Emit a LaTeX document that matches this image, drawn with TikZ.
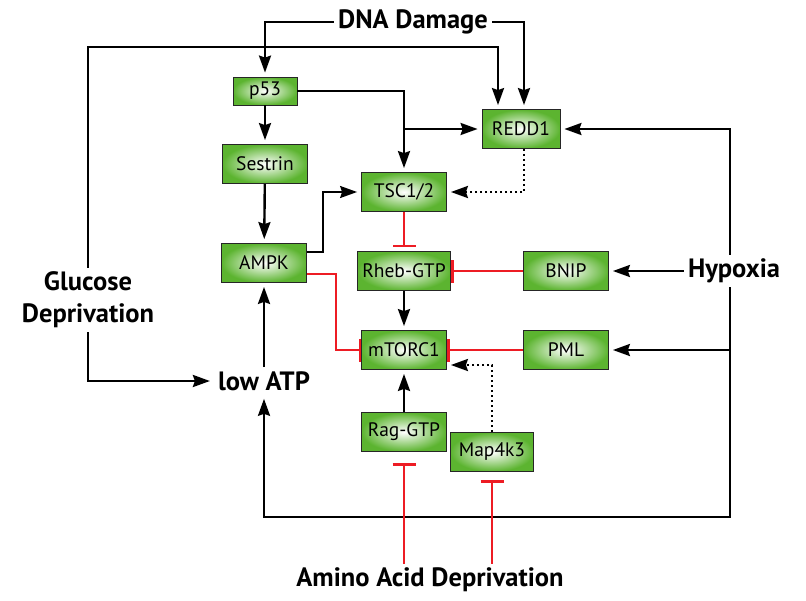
\documentclass[tikz,border=0pt]{standalone}
\usepackage{fontspec}
\setmainfont{PT Sans}
\usetikzlibrary{arrows.meta}
\definecolor{boxgreen}{RGB}{92,180,48}
\definecolor{inhred}{RGB}{237,28,36}
\tikzset{
	gbox/.style={draw=black!85, line width=0.8pt, inner color=white, outer color=boxgreen,
		minimum width=85pt, minimum height=39pt, inner sep=0pt, font=\fontsize{19.5}{22}\selectfont},
	lbl/.style={inner sep=4pt, font=\bfseries\fontsize{26.5}{32}\selectfont},
	act/.style={line width=2.4pt, -{Stealth[length=17pt,width=12pt,inset=2pt]}, shorten >=4pt},
	dotact/.style={act, dash pattern=on 2.5pt off 2.5pt},
	inh/.style={line width=2.2pt, inhred, -{Bar[width=23pt,line width=2.6pt]}},
}
\begin{document}
\begin{tikzpicture}[x=1pt,y=-1pt]
\useasboundingbox (0,0) rectangle (806,600);

% boxes
\node[gbox, minimum width=64pt, minimum height=28pt] (p53) at (265,91) {p53};
\node[gbox, minimum width=78pt] (redd) at (521,129) {REDD1};
\node[gbox, minimum width=93pt] (rheb) at (404,271) {Rheb-GTP};
\node[gbox, minimum width=83pt] (map) at (492,452) {Map4k3};
\foreach \n/\x/\y/\t in {sestrin/265/164/Sestrin, ampk/264/263/AMPK, tsc/404/192/{TSC1/2},
	bnip/566/271/BNIP, mtorc/404/350/mTORC1, pml/566/350/PML, rag/404/432/Rag-GTP}{
	\node[gbox] (\n) at (\x,\y) {\t};
}

% stimuli
\node[lbl] (dna) at (413,22) {DNA Damage};
\node[lbl, align=center] (glucose) at (88,300) {Glucose\\Deprivation};
\node[lbl] (atp) at (264,381) {low ATP};
\node[lbl] (hypoxia) at (734,271) {Hypoxia};
\node[lbl] (amino) at (430,580) {Amino Acid Deprivation};

\coordinate (gtop) at (88,47);
\coordinate (hbot) at (730,517);

% activation
\draw[act] (dna.west) -| (p53.north);
\draw[act] (dna.east) -| ([xshift=3pt]redd.north);
\draw[act] (glucose.north) -- (gtop) -| ([xshift=-23pt]redd.north);
\draw[act] (glucose.south) |- (atp.west);
\draw[act] (atp) -- (ampk);
\draw[act] (p53) -- (sestrin);
\draw[act] (sestrin) -- (ampk);
\draw[act] (p53.east) -| (tsc.north);
\draw[act] (tsc.north |- redd.west) -- (redd.west);
\draw[act, line width=1.8pt] ([yshift=11pt]ampk.east) -- ++(16,0) |- (tsc.west);
\draw[act] (rheb) -- (mtorc);
\draw[act] (rag) -- (mtorc);
\draw[act] (hypoxia) -- (bnip);
\draw[act] ([xshift=-4pt]hypoxia.north) |- (redd.east);
\draw[act] ([xshift=-4pt]hypoxia.south) |- (pml.east);
\draw[act] ([xshift=-4pt]hypoxia.south) -- (hbot) -| (atp.south);
\draw[dotact] ([xshift=3pt]redd.south) |- (tsc.east);
\draw[dotact] (map.north) |- ([yshift=-15pt]mtorc.east);

% inhibition
\draw[inh, shorten >=4pt] (tsc) -- (rheb);
\draw[inh] ([yshift=-11pt]ampk.east) -- ++(29,0) |- (mtorc.west);
\draw[inh] (bnip) -- (rheb);
\draw[inh] (pml) -- (mtorc);
\draw[inh, shorten >=11pt] (rag.south |- amino.north) -- (rag.south);
\draw[inh, shorten >=8pt] (map.south |- amino.north) -- (map.south);

\end{tikzpicture}
\end{document}
